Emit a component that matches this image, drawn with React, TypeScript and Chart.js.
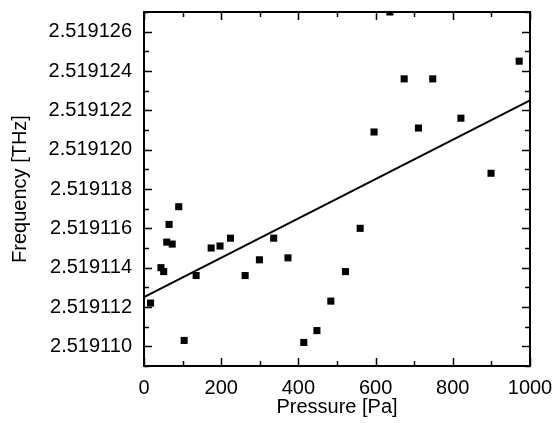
import React, { useEffect, useRef } from "react";
import { Chart, registerables } from "chart.js";

Chart.register(...registerables);

const pressure = [17, 44, 51, 59, 65, 73, 90, 104, 135, 174, 197, 224, 262, 299, 336, 373, 414, 448, 484, 522, 560, 596, 637, 674, 711, 748, 821, 899, 972];
const frequency = [
  2.5191122, 2.519114, 2.5191138, 2.5191153, 2.5191162, 2.5191152, 2.5191171, 2.5191103,
  2.5191136, 2.519115, 2.5191151, 2.5191155, 2.5191136, 2.5191144, 2.5191155, 2.5191145,
  2.5191102, 2.5191108, 2.5191123, 2.5191138, 2.519116, 2.5191209, 2.519127, 2.5191236,
  2.5191211, 2.5191236, 2.5191216, 2.5191188, 2.5191245,
];
const fitX = [0, 1000];
const fitY = [2.5191125, 2.5191225];

const xMajorTicks = [0, 200, 400, 600, 800, 1000];
const xMinorTicks = [100, 300, 500, 700, 900];
const yMajorTicks = [2.51911, 2.519112, 2.519114, 2.519116, 2.519118, 2.51912, 2.519122, 2.519124, 2.519126];
const yMinorTicks = [2.519109, 2.519111, 2.519113, 2.519115, 2.519117, 2.519119, 2.519121, 2.519123, 2.519125, 2.519127];

const FONT = "'Liberation Sans', Arial, sans-serif";

const framePlugin = {
  id: "frame",
  afterDraw(chart: any) {
    const { ctx, chartArea, scales } = chart;
    const { left, right, top, bottom } = chartArea;
    ctx.save();
    ctx.strokeStyle = "#000";
    ctx.lineWidth = 1.5;
    const major = 8;
    const minor = 5;
    ctx.beginPath();
    const xt = (v: number, len: number) => {
      const px = Math.round(scales.x.getPixelForValue(v)) + 0.5;
      ctx.moveTo(px, bottom);
      ctx.lineTo(px, bottom - len);
      ctx.moveTo(px, top);
      ctx.lineTo(px, top + len);
    };
    const yt = (v: number, len: number) => {
      const py = Math.round(scales.y.getPixelForValue(v)) + 0.5;
      ctx.moveTo(left, py);
      ctx.lineTo(left + len, py);
      ctx.moveTo(right, py);
      ctx.lineTo(right - len, py);
    };
    xMajorTicks.forEach((v) => xt(v, major));
    xMinorTicks.forEach((v) => xt(v, minor));
    yMajorTicks.forEach((v) => yt(v, major));
    yMinorTicks.forEach((v) => yt(v, minor));
    ctx.stroke();
    ctx.lineWidth = 2;
    ctx.strokeRect(left, top, right - left, bottom - top);
    ctx.restore();
  },
};

export default function App() {
  const ref = useRef<HTMLCanvasElement>(null);
  useEffect(() => {
    if (!ref.current) return;
    const chart = new Chart(ref.current, {
      type: "scatter",
      data: {
        datasets: [
          {
            data: pressure.map((x, i) => ({ x, y: frequency[i] })),
            pointStyle: "rect",
            pointRadius: 5,
            pointBorderWidth: 0,
            backgroundColor: "#000",
            borderColor: "#000",
            clip: 0,
          },
          {
            type: "line",
            data: fitX.map((x, i) => ({ x, y: fitY[i] })),
            borderColor: "#000",
            borderWidth: 2,
            pointRadius: 0,
            fill: false,
          },
        ] as any,
      },
      options: {
        animation: false,
        responsive: false,
        layout: { padding: { top: 12, right: 25, left: 0, bottom: 0 } },
        plugins: { legend: { display: false }, tooltip: { enabled: false } },
        scales: {
          x: {
            type: "linear",
            min: 0,
            max: 1000,
            grid: { display: false, drawTicks: false },
            border: { display: false },
            afterBuildTicks: (s: any) => {
              s.ticks = xMajorTicks.map((v) => ({ value: v }));
            },
            afterFit: (s: any) => {
              s.height = 57;
              s.paddingLeft = 0;
              s.paddingRight = 0;
            },
            ticks: {
              padding: 10,
              color: "#000",
              font: { family: FONT, size: 20 },
              maxRotation: 0,
              callback: (v: any) => String(v),
            },
            title: {
              display: true,
              text: "Pressure [Pa]",
              color: "#000",
              font: { family: FONT, size: 20 },
              padding: { top: 0, bottom: 4 },
            },
          },
          y: {
            type: "linear",
            min: 2.519109,
            max: 2.519127,
            grid: { display: false, drawTicks: false },
            border: { display: false },
            afterBuildTicks: (s: any) => {
              s.ticks = yMajorTicks.map((v) => ({ value: v }));
            },
            afterFit: (s: any) => {
              s.width = 144;
              s.paddingTop = 0;
              s.paddingBottom = 0;
            },
            ticks: {
              padding: 12,
              color: "#000",
              font: { family: FONT, size: 20 },
              callback: (v: any) => Number(v).toFixed(6),
            },
            title: {
              display: true,
              text: "Frequency [THz]",
              color: "#000",
              font: { family: FONT, size: 20 },
              padding: { top: 8, bottom: 0 },
            },
          },
        },
      },
      plugins: [framePlugin],
    });
    return () => chart.destroy();
  }, []);
  return (
    <div style={{ position: "absolute", left: 0, top: 0, width: 555, height: 423, background: "#fff" }}>
      <canvas ref={ref} width={555} height={423} style={{ display: "block" }} />
    </div>
  );
}
